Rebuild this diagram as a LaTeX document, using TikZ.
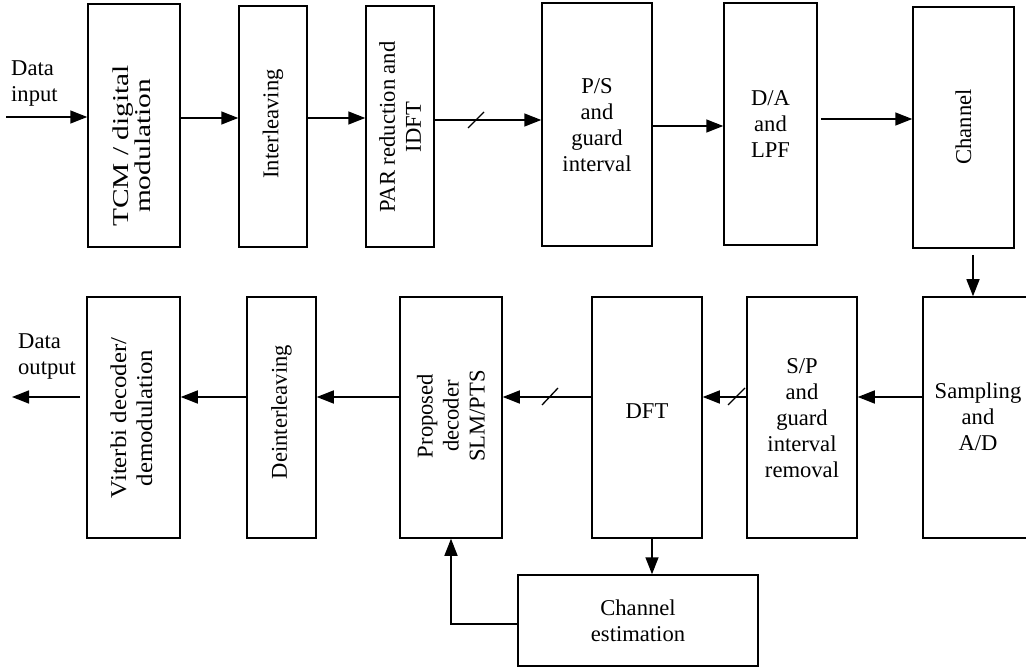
\documentclass[tikz,border=0pt]{standalone}
\usepackage{fontspec}
\setmainfont{Liberation Serif}
\usetikzlibrary{arrows.meta}
\newcommand\fsz{\fontsize{22.6}{26}\selectfont}
\begin{document}
\begin{tikzpicture}[x=1pt,y=-1pt,
  box/.style={draw, line width=1.5pt, inner sep=0pt},
  htext/.style={font=\fsz, align=center, inner sep=0pt},
  vtext/.style={font=\fsz, align=center, inner sep=0pt, rotate=90},
  conn/.style={line width=1.5pt, -{Triangle[length=17pt,width=13pt]}},
  slash/.style={line width=1.3pt}]
\useasboundingbox (0,0) rectangle (1026,668);
\clip (0,0) rectangle (1026,668);
% ---- top row boxes
\node[box, minimum width=92pt, minimum height=243pt] (tcm) at (134,125.5) {};
\node[box, minimum width=68pt, minimum height=241pt] (il) at (273,126.5) {};
\node[box, minimum width=68pt, minimum height=241pt] (par) at (400,126.5) {};
\node[box, minimum width=110pt, minimum height=243pt] (ps) at (597,124.5) {};
\node[box, minimum width=93pt, minimum height=242pt] (da) at (770.5,124) {};
\node[box, minimum width=101pt, minimum height=241pt] (ch) at (963.5,127.5) {};
% ---- bottom row boxes
\node[box, minimum width=93pt, minimum height=241pt] (vit) at (133.5,417.5) {};
\node[box, minimum width=69pt, minimum height=241pt] (dil) at (281.5,417.5) {};
\node[box, minimum width=102pt, minimum height=241pt] (prop) at (451,417.5) {};
\node[box, minimum width=110pt, minimum height=241pt] (dft) at (647,417.5) {};
\node[box, minimum width=110pt, minimum height=241pt] (sp) at (802,417.5) {};
\node[box, minimum width=110pt, minimum height=241pt] (samp) at (978,417.5) {};
\node[box, minimum width=240pt, minimum height=91pt] (est) at (638,620.5) {};
% ---- texts
\node[vtext, font=\fontsize{22.6}{21}\selectfont] (tcmt) at (135,146) {\scalebox{1.3}[1]{\begin{tabular}{@{}c@{}}TCM / digital\\modulation\end{tabular}}};
\node[vtext] (ilt) at (273,124) {Interleaving};
\node[vtext] (part) at (400,127) {PAR reduction and\\IDFT};
\node[htext] (pst) at (597,125) {P/S\\and\\guard\\interval};
\node[htext] (dat) at (770.5,124) {D/A\\and\\LPF};
\node[vtext] (cht) at (963.5,127) {Channel};
\node[vtext] (vitt) at (134,418) {\scalebox{1.1}[1]{\begin{tabular}{@{}c@{}}Viterbi decoder/\\demodulation\end{tabular}}};
\node[vtext] (dilt) at (281.5,412) {Deinterleaving};
\node[vtext] (propt) at (451,416) {Proposed\\decoder\\SLM/PTS};
\node[htext] (dftt) at (647,411) {DFT};
\node[htext] (spt) at (802,418) {S/P\\and\\guard\\interval\\removal};
\node[htext] (sampt) at (978,417) {Sampling\\and\\A/D};
\node[htext] (estt) at (638,621) {Channel\\estimation};
\node[htext, align=left, anchor=west] (din) at (11,84) {Data\\input};
\node[htext, align=left, anchor=west] (dout) at (18,357) {Data\\output};
% ---- connector ends
\coordinate (inS) at (6,117);
\coordinate (outE) at (12,397);
\coordinate (outS) at (80,397);
\coordinate (chS) at (973,255);
% ---- top row connectors
\draw[conn] (inS) -- (inS -| tcm.west);
\draw[conn] (tcm.east |- 0,118) -- (il.west |- 0,118);
\draw[conn] (il.east |- 0,118) -- (par.west |- 0,118);
\draw[conn] (par.east |- 0,120) -- (ps.west |- 0,120);
\draw[slash] (468,128) -- (484,112);
\draw[conn] (ps.east |- 0,126) -- (da.west |- 0,126);
\draw[conn] ([xshift=3pt]da.east |- 0,119) -- (ch.west |- 0,119);
\draw[conn] (chS) -- (chS |- samp.north);
% ---- bottom row connectors
\draw[conn] (samp.west |- 0,397) -- (sp.east |- 0,397);
\draw[conn] (sp.west |- 0,397) -- (dft.east |- 0,397);
\draw[slash] (728,405) -- (745,388);
\draw[conn] (dft.west |- 0,397) -- (prop.east |- 0,397);
\draw[slash] (542,405) -- (558,388);
\draw[conn] (prop.west |- 0,397) -- (dil.east |- 0,397);
\draw[conn] (dil.west |- 0,397) -- (vit.east |- 0,397);
\draw[conn] (outS) -- (outE);
\draw[conn] (652,0 |- dft.south) -- (652,0 |- est.north);
\draw[conn] (est.west |- 0,624) -| (prop.south -| 451,0);
\end{tikzpicture}
\end{document}
